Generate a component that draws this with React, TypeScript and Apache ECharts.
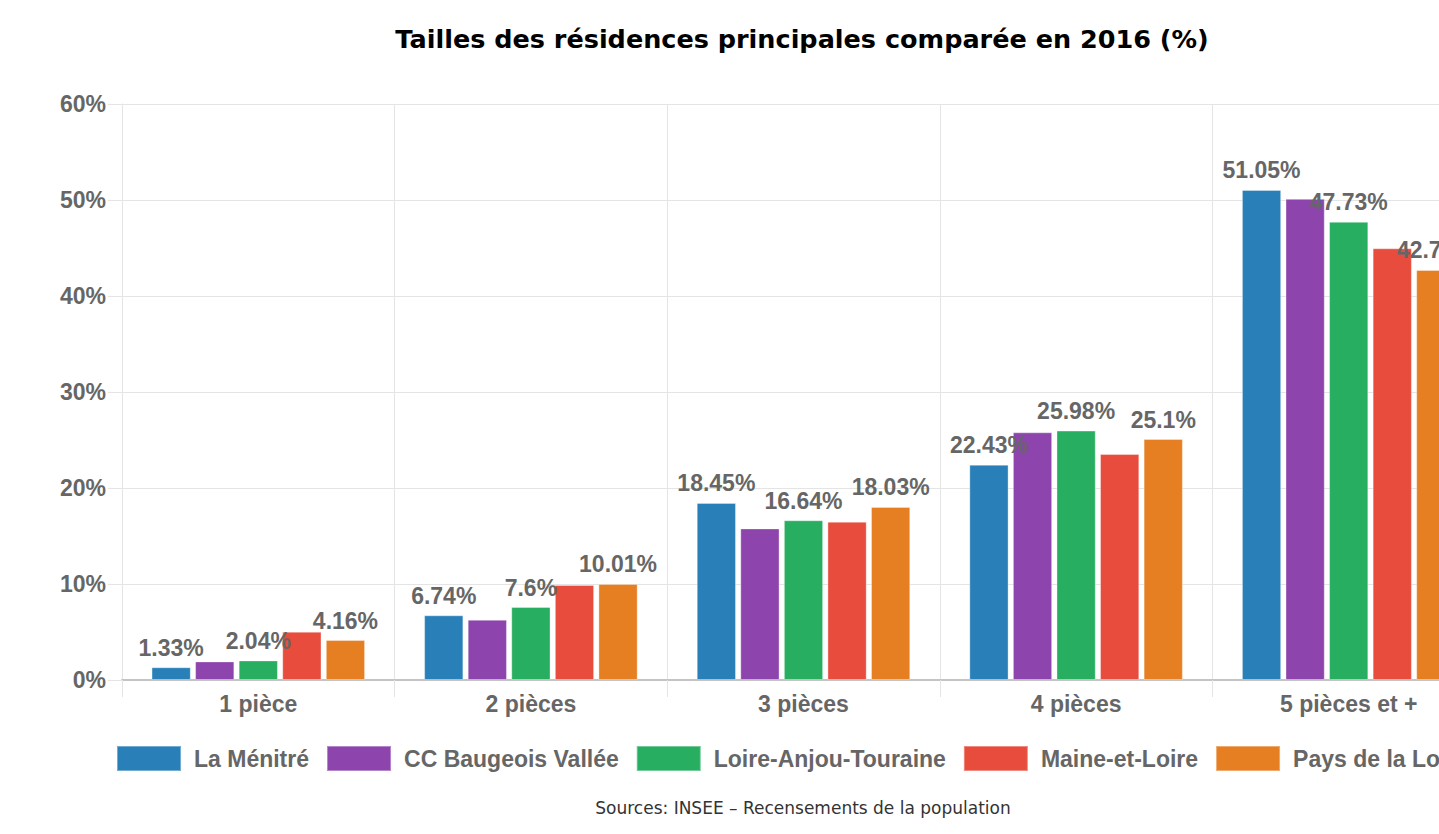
import React, { useEffect, useRef } from "react";
import * as echarts from "echarts";

const categories = ["1 pièce", "2 pièces", "3 pièces", "4 pièces", "5 pièces et +"];
const seriesNames = ["La Ménitré", "CC Baugeois Vallée", "Loire-Anjou-Touraine", "Maine-et-Loire", "Pays de la Loire"];
const laMenitre = [1.33, 6.74, 18.45, 22.43, 51.05];
const ccBaugeois = [1.94, 6.28, 15.79, 25.8, 50.12];
const loireAnjou = [2.04, 7.6, 16.64, 25.98, 47.73];
const maineEtLoire = [5.03, 9.9, 16.49, 23.54, 44.97];
const paysDeLaLoire = [4.16, 10.01, 18.03, 25.1, 42.71];
const colors = ["#2980b9", "#8e44ad", "#27ae60", "#e74c3c", "#e67e22"];
const showLabel = [true, false, true, false, true];
const yTicks = [0, 10, 20, 30, 40, 50, 60];

const GRAY = "#666666";
const FONT = "Liberation Sans, Arial, sans-serif";

export default function App() {
  const ref = useRef<HTMLDivElement>(null);
  useEffect(() => {
    if (!ref.current) return;
    const chart = echarts.init(ref.current, undefined, { renderer: "svg" });
    const data = [laMenitre, ccBaugeois, loireAnjou, maineEtLoire, paysDeLaLoire];
    chart.setOption({
      animation: false,
      backgroundColor: "#ffffff",
      title: {
        text: "Tailles des résidences principales comparée en 2016 (%)",
        left: 797,
        top: 21,
        textAlign: "center",
        textStyle: { fontFamily: "DejaVu Sans", fontWeight: "bold", fontSize: 25.5, color: "#000" },
      },
      legend: {
        left: 111,
        top: 740,
        itemWidth: 64,
        itemHeight: 25,
        itemGap: 17,
        icon: "rect",
        data: seriesNames,
        textStyle: { fontFamily: FONT, fontWeight: "bold", fontSize: 23, color: GRAY, padding: [0, 0, 0, 8] },
      },
      grid: { left: 122, right: 121, top: 104, height: 576, containLabel: false },
      xAxis: {
        type: "category",
        data: categories,
        axisLine: { show: true, lineStyle: { color: "#c4c4c4", width: 2 } },
        axisTick: { show: true, length: 17, lineStyle: { color: "#e4e4e4" } },
        splitLine: { show: true, lineStyle: { color: "#e4e4e4" } },
        axisLabel: { fontFamily: FONT, fontWeight: "bold", fontSize: 23, color: GRAY, margin: 12 },
      },
      yAxis: {
        type: "value",
        min: yTicks[0],
        max: yTicks[yTicks.length - 1],
        interval: 10,
        axisLine: { show: true, lineStyle: { color: "#e4e4e4" } },
        axisTick: { show: true, length: 14, lineStyle: { color: "#e4e4e4" } },
        splitLine: { show: true, lineStyle: { color: "#e4e4e4" } },
        axisLabel: { fontFamily: FONT, fontWeight: "bold", fontSize: 23, color: GRAY, margin: 16, formatter: "{value}%" },
      },
      series: seriesNames.map((name, i) => ({
        name,
        type: "bar",
        data: data[i],
        barWidth: "14.4%",
        barGap: "11%",
        itemStyle: { color: colors[i], borderColor: "rgba(255,255,255,0.35)", borderWidth: 1 },
        label: {
          show: showLabel[i],
          position: "top",
          distance: 8,
          fontFamily: FONT,
          fontWeight: "bold",
          fontSize: 23,
          color: GRAY,
          formatter: "{c}%",
        },
      })),
      graphic: [
        {
          type: "text",
          x: 803,
          y: 808,
          style: {
            text: "Sources: INSEE – Recensements de la population",
            fontFamily: "DejaVu Sans",
            fontSize: 17,
            fill: "#333",
            align: "center",
            verticalAlign: "middle",
          },
        },
      ],
    });
    return () => chart.dispose();
  }, []);
  return (
    <div style={{ position: "fixed", left: 0, top: 0, width: 1439, height: 834, overflow: "hidden", background: "#fff" }}>
      <div ref={ref} style={{ width: 1606, height: 834 }} />
    </div>
  );
}
